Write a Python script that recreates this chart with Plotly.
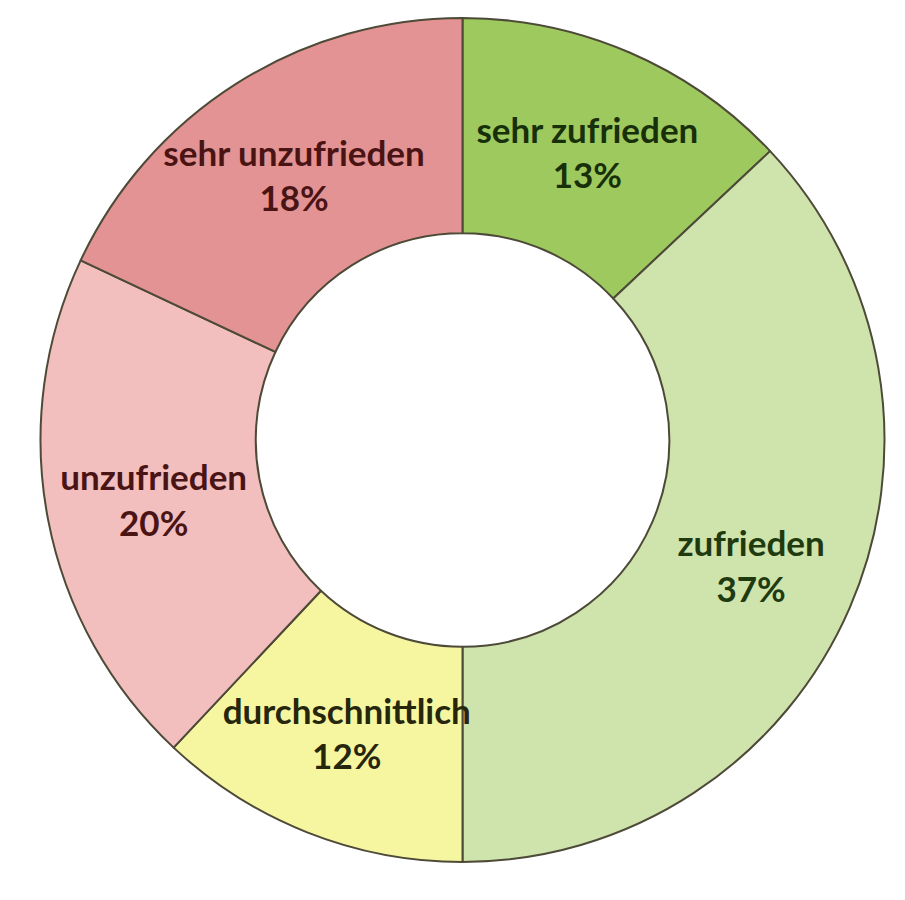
import plotly.graph_objects as go

# Zufriedenheit, im Uhrzeigersinn ab 12 Uhr
categories = ["sehr zufrieden", "zufrieden", "durchschnittlich", "unzufrieden", "sehr unzufrieden"]
shares = [13, 37, 12, 20, 18]

slice_colors = ["#9ec95e", "#cfe3ad", "#f7f6a0", "#f2bebe", "#e39393"]
text_colors = ["#18300a", "#203a10", "#26260c", "#4a1414", "#4a1414"]

fig = go.Figure()
fig.add_pie(
    labels=categories,
    values=shares,
    hole=0.49,
    sort=False,
    direction="clockwise",
    rotation=0,
    marker=dict(colors=slice_colors, line=dict(color="#4d4a38", width=2)),
    texttemplate="%{label}<br>%{percent:.0%}",
    textposition="inside",
    insidetextorientation="horizontal",
    textfont=dict(family="Lato", size=35, color=text_colors, weight="bold"),
    showlegend=False,
)

fig.update_layout(
    width=905,
    height=900,
    margin=dict(l=32, r=28, t=10, b=46),
    paper_bgcolor="white",
    uniformtext=dict(minsize=35, mode="show"),
)
fig.write_html("out.html")
